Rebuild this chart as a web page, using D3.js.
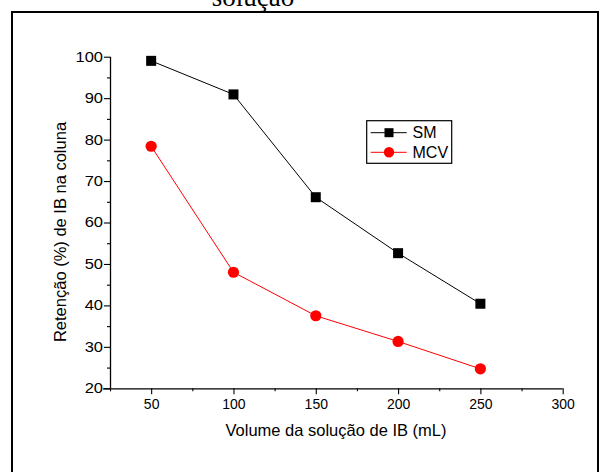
<!DOCTYPE html>
<html>
<head>
<meta charset="utf-8">
<script src="https://cdn.jsdelivr.net/npm/d3@7"></script>
<style>
  html, body { margin: 0; padding: 0; background: #fff; }
  svg { display: block; }
  text { font-family: Arial, "Liberation Sans", sans-serif; fill: #000; }
</style>
</head>
<body>
<svg id="chart" width="599" height="472"></svg>
<script>
const volumes = [50, 100, 150, 200, 250];
const smValues = [99.0, 90.9, 66.1, 52.6, 40.4];
const mcvValues = [78.4, 48.0, 37.5, 31.3, 24.7];
const seriesNames = ["SM", "MCV"];
const xTicks = [50, 100, 150, 200, 250, 300];
const yTicks = [20, 30, 40, 50, 60, 70, 80, 90, 100];
const titleText = "solução";
const xLabel = "Volume da solução de IB (mL)";
const yLabel = "Retenção (%) de IB na coluna";

const svg = d3.select("#chart");

// outer frame
svg.append("rect").attr("x", 12).attr("y", 12).attr("width", 586).attr("height", 480)
  .attr("fill", "none").attr("stroke", "#000").attr("stroke-width", 2);

// title (cut off at top in the reference)
svg.append("text").attr("x", 253).attr("y", 6).attr("text-anchor", "middle")
  .style("font-family", "'Liberation Serif', 'Times New Roman', serif")
  .style("font-size", "27px").text(titleText);

const x = d3.scaleLinear().domain([25, 300]).range([110, 562.7]);
const y = d3.scaleLinear().domain([20, 100]).range([388.3, 56.7]);

// axes
const xAxis = svg.append("g").attr("transform", `translate(0,${y(20)})`)
  .call(d3.axisBottom(x).tickValues(xTicks).tickSize(6).tickPadding(4).tickFormat(d3.format("d")));
const xMinor = svg.append("g").attr("transform", `translate(0,${y(20)})`)
  .call(d3.axisBottom(x).tickValues(d3.range(25, 301, 25).filter(v => !xTicks.includes(v))).tickSize(3).tickFormat(""));
xMinor.select(".domain").remove();

const yAxis = svg.append("g").attr("transform", `translate(${x(25)},0)`)
  .call(d3.axisLeft(y).tickValues(yTicks).tickSize(6).tickPadding(3).tickFormat(d3.format("d")));
const yMinor = svg.append("g").attr("transform", `translate(${x(25)},0)`)
  .call(d3.axisLeft(y).tickValues(d3.range(25, 100, 10)).tickSize(3).tickFormat(""));
yMinor.select(".domain").remove();

xAxis.select(".domain").attr("d", `M${x(25) - 7},0.5H${x(300)}`).attr("stroke", "#000").attr("stroke-width", 1.3).attr("fill", "none");
yAxis.select(".domain").attr("d", `M0.5,${y(20)}V${y(100)}`).attr("stroke", "#000").attr("stroke-width", 1.3).attr("fill", "none");
svg.selectAll(".tick line").attr("stroke", "#000").attr("stroke-width", 1.1);
xAxis.selectAll(".tick text").style("font-size", "14px").attr("fill", "#000").attr("dy", "0.75em");
yAxis.selectAll(".tick text").style("font-size", "14px").attr("fill", "#000")
  .attr("x", -7 / 1.18).attr("transform", "scale(1.18,1)");

// axis labels
svg.append("text").attr("x", 336).attr("y", 436).attr("text-anchor", "middle")
  .style("font-size", "16.5px").text(xLabel);
svg.append("text").attr("transform", `translate(66,232) rotate(-90)`)
  .attr("text-anchor", "middle").style("font-size", "16.5px").text(yLabel);

const line = d3.line().x((d, i) => x(volumes[i])).y(d => y(d));

// SM
svg.append("path").datum(smValues).attr("d", line).attr("fill", "none").attr("stroke", "#000").attr("stroke-width", 1);
svg.selectAll(".sm").data(smValues).enter().append("rect")
  .attr("x", (d, i) => x(volumes[i]) - 5).attr("y", d => y(d) - 5)
  .attr("width", 10).attr("height", 10).attr("fill", "#000");

// MCV
svg.append("path").datum(mcvValues).attr("d", line).attr("fill", "none").attr("stroke", "#ff0000").attr("stroke-width", 1);
svg.selectAll(".mcv").data(mcvValues).enter().append("circle")
  .attr("cx", (d, i) => x(volumes[i])).attr("cy", d => y(d)).attr("r", 5.6).attr("fill", "#ff0000");

// legend
const lg = svg.append("g");
lg.append("rect").attr("x", 366.7).attr("y", 120.7).attr("width", 85).attr("height", 42.6)
  .attr("fill", "#fff").attr("stroke", "#000").attr("stroke-width", 1.2);
const legendRows = [{ name: seriesNames[0], color: "#000", y: 132.7, shape: "square" },
                    { name: seriesNames[1], color: "#ff0000", y: 152.3, shape: "circle" }];
legendRows.forEach(r => {
  lg.append("line").attr("x1", 370.7).attr("x2", 406.7).attr("y1", r.y).attr("y2", r.y)
    .attr("stroke", r.color).attr("stroke-width", 1);
  if (r.shape === "square") {
    lg.append("rect").attr("x", 384.5).attr("y", r.y - 4.5).attr("width", 9).attr("height", 9).attr("fill", r.color);
  } else {
    lg.append("circle").attr("cx", 389).attr("cy", r.y).attr("r", 5.2).attr("fill", r.color);
  }
  lg.append("text").attr("x", 412.5).attr("y", r.y + 5.5).style("font-size", "16px").text(r.name);
});
</script>
</body>
</html>
